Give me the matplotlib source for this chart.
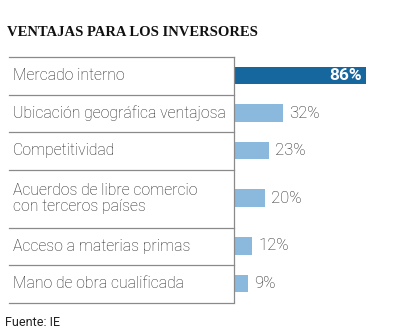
import matplotlib.pyplot as plt
from matplotlib.lines import Line2D

labels = ["Mercado interno", "Ubicación geográfica ventajosa", "Competitividad",
          "Acuerdos de libre comercio\ncon terceros países",
          "Acceso a materias primas", "Mano de obra cualificada"]
values = [86, 32, 23, 20, 12, 9]
pct_labels = ["86%", "32%", "23%", "20%", "12%", "9%"]

W, H = 414, 330
fig = plt.figure(figsize=(W / 100, H / 100), dpi=100)

# row heights grow with number of text lines
heights = [37.5 + 20.5 * (lab.count("\n")) for lab in labels]
bounds = [0]
for h in heights:
    bounds.append(bounds[-1] + h)
centers = [(bounds[i] + bounds[i + 1]) / 2 for i in range(len(labels))]

x0, x1 = 234, 414
top, bot = 57, 302
ax = fig.add_axes([x0 / W, 1 - bot / H, (x1 - x0) / W, (bot - top) / H])
ax.set_xlim(0, (x1 - x0) / 1.535)
ax.set_ylim(bounds[-1], 0)
ax.axis("off")

colors = ["#17679f"] + ["#8bb9dd"] * (len(values) - 1)
ax.barh(centers, values, height=17.5, color=colors)

# separators in figure pixels
for b in bounds:
    yf = 1 - (top + b) / H
    fig.add_artist(Line2D([9 / W, x0 / W], [yf, yf], color="#8a8a8a", lw=0.9))
fig.add_artist(Line2D([x0 / W, x0 / W], [1 - top / H, 1 - bot / H], color="#8a8a8a", lw=0.9))

for c, lab in zip(centers, labels):
    fig.text(13 / W, 1 - (top + c) / H, lab, ha="left", va="center", fontsize=11.3,
             family="Roboto", weight="light", color="#222222", linespacing=1.15)

for i, (c, v, p) in enumerate(zip(centers, values, pct_labels)):
    if i == 0:
        ax.text(v - 2.5, c, p, ha="right", va="center", fontsize=12.5, color="white",
                family="Roboto", weight="bold")
    else:
        ax.text(v + 4, c, p, ha="left", va="center", fontsize=12, color="#222222",
                family="Roboto", weight="light")

fig.text(7 / W, 1 - 32 / H, "VENTAJAS PARA LOS INVERSORES", ha="left", va="center",
         fontsize=10.5, family="Liberation Serif", weight="bold", color="#111111")
fig.text(5 / W, 1 - 322 / H, "Fuente: IE", ha="left", va="center", fontsize=9,
         family="Roboto", color="#222222")

fig.savefig("out.png", dpi=100)
